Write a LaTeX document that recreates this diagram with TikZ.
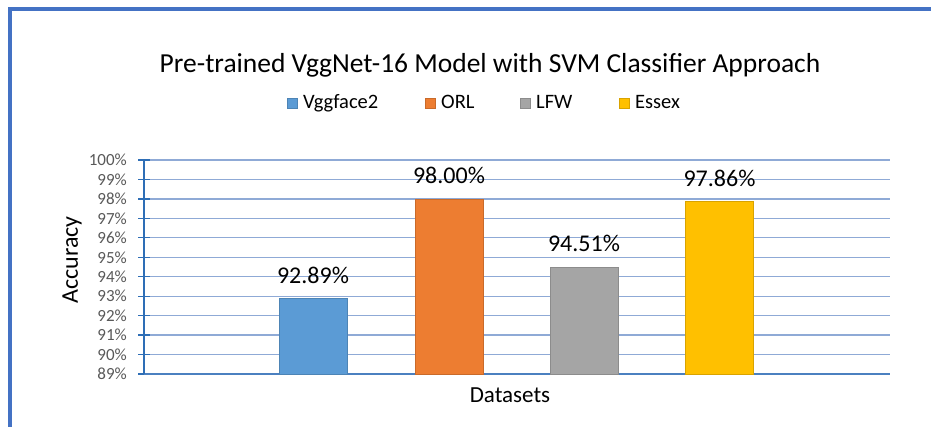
\documentclass[tikz,border=0pt]{standalone}
\usepackage{fontspec}
\setmainfont{Carlito}
\usetikzlibrary{positioning}
\definecolor{frameblue}{RGB}{68,114,196}
\definecolor{gridblue}{RGB}{143,170,214}
\definecolor{axisblue}{RGB}{46,110,182}
\definecolor{vggblue}{RGB}{91,155,213}
\definecolor{orlorange}{RGB}{237,125,49}
\definecolor{lfwgray}{RGB}{165,165,165}
\definecolor{essexgold}{RGB}{255,192,0}
\definecolor{ticktext}{RGB}{89,89,89}

\begin{document}
\begin{tikzpicture}[
  x=1pt, y=-1pt,
  barb/.style={draw=#1!85!black, fill=#1, line width=0.5pt, inner sep=0pt, outer sep=0pt,
               minimum width=68pt, anchor=south},
  vall/.style={font=\fontsize{24}{28}\selectfont, anchor=base, inner sep=0pt},
  tickl/.style={font=\fontsize{17}{20}\selectfont, text=ticktext, anchor=east, inner sep=0pt},
  legb/.style={fill=#1, draw=#1!85!black, line width=0.3pt, minimum size=10pt, inner sep=0pt},
  legt/.style={font=\fontsize{20.5}{24}\selectfont, anchor=base west, inner sep=0pt},
  gridl/.style={gridblue, line width=1.2pt},
]
\useasboundingbox (0,0) rectangle (931,427);

% Frame (only top and left edge visible)
\draw[frameblue, line width=3.6pt] (10,427) -- (10,9) -- (931,9);

% Title and legend
\node[font=\fontsize{27.5}{32}\selectfont, anchor=base, inner sep=0pt] (title) at (490,73)
  {Pre-trained VggNet-16 Model with SVM Classifier Approach};
\node[legb=vggblue]    (lgvgg)   at (292,103) {};
\node[legt] (lgvggt)   at (303,109) {Vggface2};
\node[legb=orlorange]  (lgorl)   at (430,103) {};
\node[legt] (lgorlt)   at (441,109) {ORL};
\node[legb=lfwgray]    (lglfw)   at (525,103) {};
\node[legt] (lglfwt)   at (536,109) {LFW};
\node[legb=essexgold]  (lgessex) at (624,103) {};
\node[legt] (lgessext) at (635,109) {Essex};

% Grid and y axis
\foreach \v [count=\i from 0] in {89,...,100} {
  \coordinate (g\v) at (144,374-\i*19.45);
  \ifnum\v>89 \draw[gridl] (g\v) -- ++(746,0); \fi
  \draw[axisblue, line width=1.2pt] ([xshift=-6pt]g\v) -- ([xshift=6pt]g\v);
  \node[tickl] (t\v) at ([xshift=-17pt]g\v) {\v\%};
}
\draw[gridl, axisblue!70!gridblue] (g89) -- ++(746,0);
\draw[axisblue, line width=1.6pt] (g89) -- (g100);

% Axis titles
\node[font=\fontsize{24}{28}\selectfont, rotate=90] (ylab) at (72,260) {Accuracy};
\node[font=\fontsize{23}{28}\selectfont] (xlab) at (510,395) {Datasets};

% Bars
\node[barb=vggblue,    minimum height={(92.89-89)*19.45pt}] (vgg)   at (313,374) {};
\node[barb=orlorange,  minimum height={(98.00-89)*19.45pt}] (orl)   at (449,374) {};
\node[barb=lfwgray,    minimum height={(94.51-89)*19.45pt}] (lfw)   at (584,374) {};
\node[barb=essexgold,  minimum height={(97.86-89)*19.45pt}] (essex) at (719.5,374) {};

% Value labels
\node[vall] (vggv)   at ([yshift=15pt]vgg.north)   {92.89\%};
\node[vall] (orlv)   at ([yshift=15pt]orl.north)   {98.00\%};
\node[vall] (lfwv)   at ([yshift=15pt]lfw.north)   {94.51\%};
\node[vall] (essexv) at ([yshift=15pt]essex.north) {97.86\%};
\end{tikzpicture}
\end{document}
